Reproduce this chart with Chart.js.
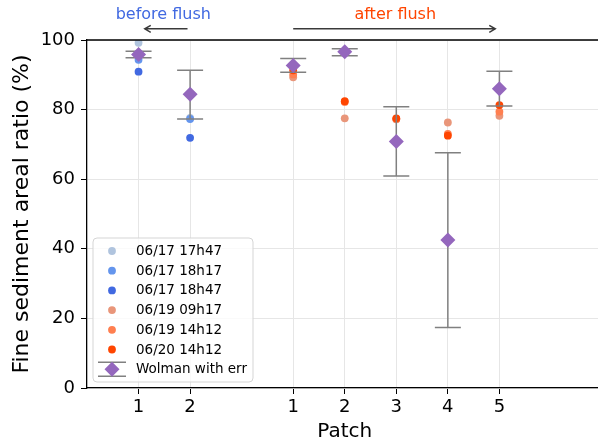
<!DOCTYPE html>
<html>
<head>
<meta charset="utf-8">
<script src="https://cdn.jsdelivr.net/npm/chart.js@4"></script>
<style>
  html, body { margin: 0; padding: 0; background: #fff; overflow: hidden; }
  #wrap { width: 610px; height: 444px; }
</style>
</head>
<body>
<div id="wrap"><canvas id="myChart" width="610" height="444"></canvas></div>
<script>
// x positions of the patches (before flush: 1,2 ; after flush: 4..8)
const patchPositions = [1, 2, 4, 5, 6, 7, 8];
const patchLabels = ['1', '2', '1', '2', '3', '4', '5'];
const beforeX = [1, 2];
const afterX = [4, 5, 6, 7, 8];

// photo-based ratios (%)
const d0617_1747 = [99.2, 77.6];
const d0617_1817 = [94.3, 77.3];
const d0617_1847 = [90.9, 71.9];
const d0619_0917 = [89.3, 77.5, 77.2, 76.3, 78.2];
const d0619_1412 = [90.1, 82.2, 77.3, 73.0, 79.4];
const d0620_1412 = [91.3, 82.4, 77.5, 72.5, 81.3];

// Wolman counts with error range
const wolman = [95.8, 84.4, 92.7, 96.6, 70.8, 42.5, 86.0];
const wolmanLow = [94.9, 77.3, 90.7, 95.5, 60.9, 17.4, 81.0];
const wolmanHigh = [96.8, 91.3, 94.7, 97.5, 80.8, 67.6, 91.0];

// annotation positions (data units)
const beforeArrow = [1.95, 1.12];
const afterArrow = [4.0, 7.92];
const arrowY = 103.2;
const labelY = 107.2;
const beforeLabelX = 1.48;
const afterLabelX = 5.98;

const FONT = '"DejaVu Sans", sans-serif';
const WOLMAN_COLOR = '#9467bd';
const ERR_COLOR = '#808080';

const pts = (xs, ys) => xs.map((x, i) => ({ x: x, y: ys[i] }));

const dotSet = (label, xs, ys, color, order) => ({
  label: label,
  data: pts(xs, ys),
  backgroundColor: color,
  borderWidth: 0,
  pointRadius: 3.9,
  order: order,
});

const datasets = [
  dotSet('06/17 17h47', beforeX, d0617_1747, '#b0c4de', 6),
  dotSet('06/17 18h17', beforeX, d0617_1817, '#6495ed', 5),
  dotSet('06/17 18h47', beforeX, d0617_1847, '#4169e1', 4),
  dotSet('06/19 09h17', afterX, d0619_0917, '#e9967a', 3),
  dotSet('06/19 14h12', afterX, d0619_1412, '#ff7f50', 2),
  dotSet('06/20 14h12', afterX, d0620_1412, '#ff4500', 1),
  {
    label: 'Wolman with err',
    data: pts(patchPositions, wolman),
    backgroundColor: WOLMAN_COLOR,
    borderWidth: 0,
    pointStyle: 'rectRot',
    pointRadius: 7.5,
    order: 0,
    isWolman: true,
  },
];

const errorBars = {
  id: 'errorBars',
  beforeDatasetDraw(chart, args) {
    const ds = chart.data.datasets[args.index];
    if (!ds.isWolman) return;
    const { ctx, scales: { x, y } } = chart;
    ctx.save();
    ctx.strokeStyle = ERR_COLOR;
    ctx.lineWidth = 1.5;
    patchPositions.forEach((p, i) => {
      const px = x.getPixelForValue(p);
      const lo = y.getPixelForValue(wolmanLow[i]);
      const hi = y.getPixelForValue(wolmanHigh[i]);
      ctx.beginPath();
      ctx.moveTo(px, lo); ctx.lineTo(px, hi);
      ctx.moveTo(px - 13, lo); ctx.lineTo(px + 13, lo);
      ctx.moveTo(px - 13, hi); ctx.lineTo(px + 13, hi);
      ctx.stroke();
    });
    ctx.restore();
  },
};

function arrow(ctx, x0, x1, y) {
  const dir = Math.sign(x1 - x0);
  ctx.beginPath();
  ctx.moveTo(x0, y); ctx.lineTo(x1, y);
  ctx.moveTo(x1 - dir * 6, y - 3.5); ctx.lineTo(x1, y); ctx.lineTo(x1 - dir * 6, y + 3.5);
  ctx.stroke();
}

const extras = {
  id: 'extras',
  afterDraw(chart) {
    const { ctx, chartArea, scales: { x, y } } = chart;
    ctx.save();
    // top spine
    ctx.strokeStyle = '#000';
    ctx.lineWidth = 1.3;
    ctx.beginPath();
    ctx.moveTo(chartArea.left, chartArea.top);
    ctx.lineTo(chartArea.right, chartArea.top);
    ctx.stroke();

    // flush annotations
    ctx.strokeStyle = '#3a3a3a';
    ctx.lineWidth = 1.5;
    const ay = y.getPixelForValue(arrowY);
    arrow(ctx, x.getPixelForValue(beforeArrow[0]), x.getPixelForValue(beforeArrow[1]), ay);
    arrow(ctx, x.getPixelForValue(afterArrow[0]), x.getPixelForValue(afterArrow[1]), ay);
    ctx.font = '16px ' + FONT;
    ctx.textAlign = 'center';
    ctx.textBaseline = 'middle';
    const ty = y.getPixelForValue(labelY);
    ctx.fillStyle = '#4169e1';
    ctx.fillText('before flush', x.getPixelForValue(beforeLabelX), ty);
    ctx.fillStyle = '#ff4500';
    ctx.fillText('after flush', x.getPixelForValue(afterLabelX), ty);

    // legend box (matplotlib style, inside the axes)
    const bx = 93, by = 238, bw = 160, bh = 144, r = 4;
    ctx.beginPath();
    ctx.moveTo(bx + r, by);
    ctx.arcTo(bx + bw, by, bx + bw, by + bh, r);
    ctx.arcTo(bx + bw, by + bh, bx, by + bh, r);
    ctx.arcTo(bx, by + bh, bx, by, r);
    ctx.arcTo(bx, by, bx + bw, by, r);
    ctx.closePath();
    ctx.fillStyle = 'rgba(255,255,255,0.8)';
    ctx.fill();
    ctx.strokeStyle = '#d5d5d5';
    ctx.lineWidth = 1;
    ctx.stroke();

    ctx.font = '13.5px ' + FONT;
    ctx.textAlign = 'left';
    chart.data.datasets.forEach((ds, i) => {
      const ry = 251 + i * 19.7;
      const mx = 112;
      if (ds.isWolman) {
        ctx.strokeStyle = ERR_COLOR;
        ctx.lineWidth = 1.5;
        ctx.beginPath();
        ctx.moveTo(mx - 14, ry - 7); ctx.lineTo(mx + 14, ry - 7);
        ctx.moveTo(mx - 14, ry + 7); ctx.lineTo(mx + 14, ry + 7);
        ctx.moveTo(mx, ry - 7); ctx.lineTo(mx, ry + 7);
        ctx.stroke();
        ctx.fillStyle = ds.backgroundColor;
        ctx.beginPath();
        ctx.moveTo(mx - 7.5, ry); ctx.lineTo(mx, ry - 7.5);
        ctx.lineTo(mx + 7.5, ry); ctx.lineTo(mx, ry + 7.5);
        ctx.closePath();
        ctx.fill();
      } else {
        ctx.fillStyle = ds.backgroundColor;
        ctx.beginPath();
        ctx.arc(mx, ry, 3.9, 0, Math.PI * 2);
        ctx.fill();
      }
      ctx.fillStyle = '#000';
      ctx.fillText(ds.label, 136, ry + 0.5);
    });
    ctx.restore();
  },
};

new Chart(document.getElementById('myChart'), {
  type: 'scatter',
  data: { datasets: datasets },
  options: {
    responsive: false,
    animation: false,
    devicePixelRatio: 1,
    layout: { padding: { top: 40, right: 3, bottom: 0, left: 0 } },
    plugins: {
      legend: { display: false },
      tooltip: { enabled: false },
    },
    scales: {
      x: {
        type: 'linear',
        min: 0,
        max: 10,
        afterFit: (scale) => { scale.height = 56; },
        afterBuildTicks: (scale) => { scale.ticks = patchPositions.map(v => ({ value: v })); },
        ticks: {
          autoSkip: false,
          maxRotation: 0,
          padding: 3,
          color: '#000',
          font: { family: FONT, size: 18 },
          callback: (value) => patchLabels[patchPositions.indexOf(value)],
        },
        grid: { color: '#e6e6e6', lineWidth: 1, tickColor: '#000', tickLength: 6 },
        border: { display: true, color: '#000', width: 1.3 },
        title: {
          display: true,
          text: 'Patch',
          color: '#000',
          font: { family: FONT, size: 20 },
          padding: { top: 0, bottom: 0 },
        },
      },
      y: {
        min: 0,
        max: 100,
        afterFit: (scale) => { scale.width = 87; },
        ticks: {
          stepSize: 20,
          padding: 6,
          color: '#000',
          font: { family: FONT, size: 18 },
        },
        grid: { color: '#e6e6e6', lineWidth: 1, tickColor: '#000', tickLength: 6 },
        border: { display: true, color: '#000', width: 1.3 },
        title: {
          display: true,
          text: 'Fine sediment areal ratio (%)',
          color: '#000',
          font: { family: FONT, size: 22 },
          padding: { top: 9, bottom: 0 },
        },
      },
    },
  },
  plugins: [errorBars, extras],
});
</script>
</body>
</html>
